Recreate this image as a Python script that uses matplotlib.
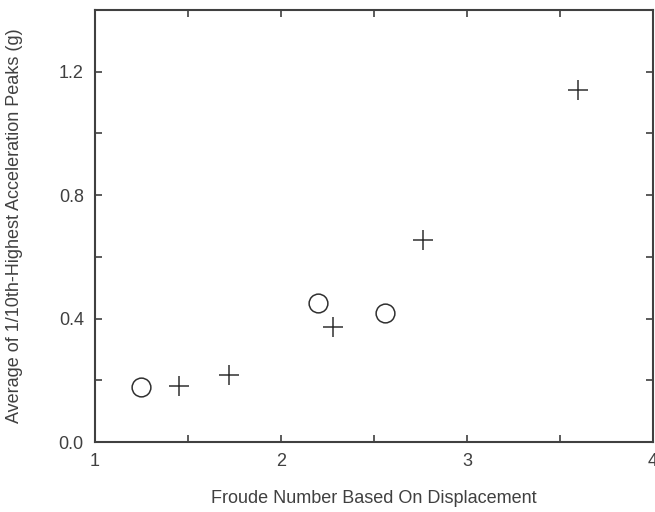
import numpy as np
import matplotlib.pyplot as plt
from matplotlib.ticker import MultipleLocator

# Two series: open circles and plus markers
circle_froude = [1.25, 2.20, 2.56]
circle_accel = [0.179, 0.449, 0.417]

cross_froude = [1.453, 1.720, 2.281, 2.762, 3.598]
cross_accel = [0.181, 0.217, 0.374, 0.655, 1.141]

INK = "#404040"

plt.rcParams["font.family"] = ["Liberation Sans", "DejaVu Sans"]

fig = plt.figure(figsize=(6.55, 5.12), dpi=100)
ax = fig.add_axes([0.145, 0.1367, 0.852, 0.8438])

ax.plot(circle_froude, circle_accel, linestyle="none", marker="o",
        markersize=13.5, markerfacecolor="none", markeredgecolor="#303030",
        markeredgewidth=1.1)
ax.plot(cross_froude, cross_accel, linestyle="none", marker="+",
        markersize=14, markeredgecolor="#303030", markeredgewidth=1.1)

ax.set_xlim(1, 4)
ax.set_ylim(0, 1.4)

ax.xaxis.set_major_locator(MultipleLocator(1))
ax.xaxis.set_minor_locator(MultipleLocator(0.5))
ax.yaxis.set_major_locator(MultipleLocator(0.4))
ax.yaxis.set_minor_locator(MultipleLocator(0.2))
ax.yaxis.set_major_formatter(plt.FuncFormatter(lambda v, p: f"{v:.1f}"))

ax.tick_params(which="both", direction="in", top=True, right=True,
               color=INK, width=1.2, labelcolor=INK, labelsize=13)
ax.tick_params(which="major", length=5, pad=8)
ax.tick_params(which="minor", length=5)

for side in ax.spines.values():
    side.set_color(INK)
    side.set_linewidth(1.5)

ax.set_xlabel("Froude Number Based On Displacement", fontsize=13,
              color=INK, labelpad=14)
ax.set_ylabel("Average of 1/10th-Highest Acceleration Peaks (g)",
              fontsize=13, color=INK, labelpad=26)

fig.savefig("out.png", dpi=100)
